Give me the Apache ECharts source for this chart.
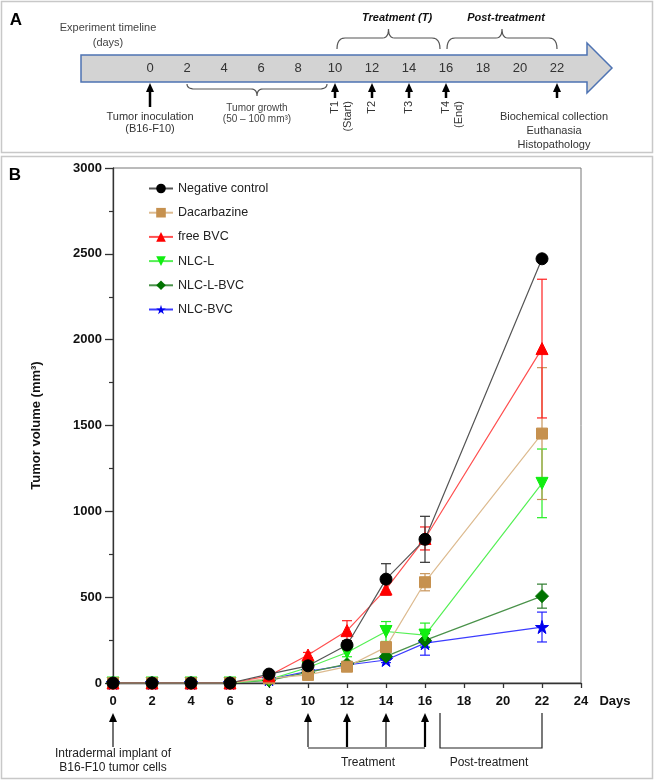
<!DOCTYPE html>
<html>
<head>
<meta charset="utf-8">
<script src="https://cdn.jsdelivr.net/npm/echarts@6/dist/echarts.min.js"></script>
<style>
  html, body { margin: 0; padding: 0; background: #fff; }
  #chart { width: 654px; height: 781px; }
</style>
</head>
<body>
<div id="chart"></div>
<script>
// measurement days and group means / SD (mm3)
const days = [0, 2, 4, 6, 8, 10, 12, 14, 16, 22]
const negControl = [0, 0, 0, 0, 52, 100, 221, 605, 837, 2471]
const negControlSd = [0, 0, 0, 0, 8, 12, 25, 90, 134, 0]
const dacarbazine = [0, 0, 0, 0, 27, 47, 95, 209, 587, 1453]
const dacarbazineSd = [0, 0, 0, 0, 5, 8, 12, 25, 50, 384]
const freeBvc = [0, 0, 0, 0, 42, 163, 305, 547, 842, 1948]
const freeBvcSd = [0, 0, 0, 0, 5, 15, 58, 35, 67, 404]
const nlcL = [0, 0, 0, 0, 20, 90, 178, 300, 279, 1163]
const nlcLSd = [0, 0, 0, 0, 8, 10, 25, 58, 70, 200]
const nlcLBvc = [0, 0, 0, 0, 15, 62, 110, 155, 248, 506]
const nlcLBvcSd = [0, 0, 0, 0, 4, 8, 15, 20, 40, 70]
const nlcBvc = [0, 0, 0, 0, 22, 68, 105, 134, 232, 326]
const nlcBvcSd = [0, 0, 0, 0, 4, 8, 10, 15, 70, 87]

const legendNames = ['Negative control', 'Dacarbazine', 'free BVC', 'NLC-L', 'NLC-L-BVC', 'NLC-BVC']
const timelineDays = [0, 2, 4, 6, 8, 10, 12, 14, 16, 18, 20, 22]
const treatLabels = ['T1', 'T2', 'T3', 'T4']
const treatDays = [10, 12, 14, 16]
const implantDays = [0, 10, 12, 14, 16]

const STAR = 'path://M50,0 L61,35 L98,35 L68,57 L79,91 L50,70 L21,91 L32,57 L2,35 L39,35 Z'
const FONT = '"Liberation Sans", Arial, sans-serif'

function lineSeries(name, vals, color, lineColor, symbol, size, extra) {
  return Object.assign({
    type: 'line',
    name: name,
    data: days.map((d, i) => [d, vals[i]]),
    symbol: symbol,
    symbolSize: size,
    showAllSymbol: true,
    itemStyle: { color: color, borderColor: color },
    lineStyle: { color: lineColor, width: 1.2 },
    emphasis: { disabled: true },
    z: 3
  }, extra || {})
}

// vertical error bar with caps
function errSeries(name, vals, sds, color) {
  return {
    type: 'custom',
    name: name + ' sd',
    data: days.map((d, i) => [d, vals[i], sds[i]]),
    encode: { x: 0, y: 1 },
    silent: true,
    z: 2,
    renderItem: function (params, api) {
      const e = api.value(2)
      if (!e) return null
      const x = api.value(0)
      const y = api.value(1)
      const top = api.coord([x, y + e])
      const bot = api.coord([x, y - e])
      const w = 5
      const st = { stroke: color, lineWidth: 1.2 }
      return {
        type: 'group',
        children: [
          { type: 'line', shape: { x1: top[0], y1: top[1], x2: bot[0], y2: bot[1] }, style: st },
          { type: 'line', shape: { x1: top[0] - w, y1: top[1], x2: top[0] + w, y2: top[1] }, style: st },
          { type: 'line', shape: { x1: bot[0] - w, y1: bot[1], x2: bot[0] + w, y2: bot[1] }, style: st }
        ]
      }
    }
  }
}

const chart = echarts.init(document.getElementById('chart'))

chart.setOption({
  animation: false,
  backgroundColor: '#fff',
  grid: { left: 113, top: 168, width: 468, height: 515, show: true, borderColor: '#777', borderWidth: 1 },
  legend: {
    data: legendNames,
    orient: 'vertical',
    left: 143,
    top: 177,
    itemWidth: 24,
    itemHeight: 12,
    itemGap: 11.2,
    textStyle: { fontFamily: FONT, fontSize: 12.5, color: '#222' }
  },
  xAxis: {
    type: 'value',
    min: 0,
    max: 24,
    interval: 2,
    splitLine: { show: false },
    axisLine: { lineStyle: { color: '#333', width: 1.3 } },
    axisTick: { length: 5, lineStyle: { color: '#333', width: 1.3 } },
    axisLabel: { fontFamily: FONT, fontWeight: 'bold', fontSize: 13, color: '#111', margin: 12 }
  },
  yAxis: {
    type: 'value',
    min: 0,
    max: 3000,
    interval: 500,
    name: 'Tumor volume (mm³)',
    nameLocation: 'middle',
    nameGap: 70,
    nameTextStyle: { fontFamily: FONT, fontWeight: 'bold', fontSize: 13, color: '#111' },
    splitLine: { show: false },
    axisLine: { show: true, lineStyle: { color: '#333', width: 1.3 } },
    axisTick: { length: 8, lineStyle: { color: '#333', width: 1.3 } },
    minorTick: { show: true, splitNumber: 2, length: 4, lineStyle: { color: '#333', width: 1.2 } },
    axisLabel: { fontFamily: FONT, fontWeight: 'bold', fontSize: 13, color: '#111', margin: 11, formatter: v => String(v) }
  },
  series: [
    errSeries('NLC-BVC', nlcBvc, nlcBvcSd, '#2222ff'),
    errSeries('NLC-L-BVC', nlcLBvc, nlcLBvcSd, '#2e7d2e'),
    errSeries('NLC-L', nlcL, nlcLSd, '#22ee22'),
    errSeries('Dacarbazine', dacarbazine, dacarbazineSd, '#c8955a'),
    errSeries('free BVC', freeBvc, freeBvcSd, '#ff2020'),
    errSeries('Negative control', negControl, negControlSd, '#333'),
    lineSeries('NLC-BVC', nlcBvc, '#0000ee', '#3c3cff', STAR, 13),
    lineSeries('NLC-L-BVC', nlcLBvc, '#007300', '#4a924a', 'diamond', 13),
    lineSeries('NLC-L', nlcL, '#11ee11', '#55f055', 'triangle', 12, { symbolRotate: 180 }),
    lineSeries('Dacarbazine', dacarbazine, '#c6914f', '#ddbb90', 'rect', 11),
    lineSeries('free BVC', freeBvc, '#ff0000', '#ff5050', 'triangle', 12),
    lineSeries('Negative control', negControl, '#000000', '#555555', 'circle', 12, { z: 4 })
  ]
})

// ---- annotation graphics ----
const px = d => chart.convertToPixel({ xAxisIndex: 0 }, d)
const xA = d => 150 + d * 18.5

function txt(text, x, y, size, opts) {
  return {
    type: 'text',
    x: x,
    y: y,
    rotation: (opts && opts.rotation) || 0,
    style: Object.assign({
      text: text,
      font: ((opts && opts.weight) || 'normal') + ' ' + size + 'px ' + FONT,
      fill: '#333',
      textAlign: 'center',
      textVerticalAlign: 'middle'
    }, (opts && opts.style) || {})
  }
}

function upArrow(x, tip, base, width) {
  return [
    { type: 'line', shape: { x1: x, y1: tip + 6, x2: x, y2: base }, style: { stroke: '#000', lineWidth: width } },
    { type: 'polygon', shape: { points: [[x, tip], [x - 4, tip + 9], [x + 4, tip + 9]] }, style: { fill: '#000' } }
  ]
}

// quadratic curve points
function quad(p0, p1, p2, n) {
  const pts = []
  for (let i = 1; i <= n; i++) {
    const t = i / n
    const a = (1 - t) * (1 - t), b = 2 * (1 - t) * t, c = t * t
    pts.push([a * p0[0] + b * p1[0] + c * p2[0], a * p0[1] + b * p1[1] + c * p2[1]])
  }
  return pts
}

// curly brace as a polyline (ends at yb, body at yt, middle point at yp)
function brace(x1, x2, yb, yt, yp) {
  const xm = (x1 + x2) / 2
  let pts = [[x1, yb]]
  pts = pts.concat(quad([x1, yb], [x1, yt], [x1 + 8, yt], 6))
  pts.push([xm - 6, yt])
  pts = pts.concat(quad([xm - 6, yt], [xm, yt], [xm, yp], 6))
  pts = pts.concat(quad([xm, yp], [xm, yt], [xm + 6, yt], 6))
  pts.push([x2 - 8, yt])
  pts = pts.concat(quad([x2 - 8, yt], [x2, yt], [x2, yb], 6))
  return { type: 'polyline', shape: { points: pts }, style: { fill: 'none', stroke: '#555', lineWidth: 1.2 } }
}

const g = []
// panel frames
g.push({ type: 'rect', shape: { x: 1.5, y: 1.5, width: 651, height: 151 }, style: { fill: 'none', stroke: '#c8c8c8', lineWidth: 1.5 }, z: -1 })
g.push({ type: 'rect', shape: { x: 1.5, y: 156.5, width: 651, height: 622 }, style: { fill: 'none', stroke: '#c8c8c8', lineWidth: 1.5 }, z: -1 })
g.push(txt('A', 16, 20, 17, { weight: 'bold', style: { fill: '#000' } }))
g.push(txt('B', 15, 175, 17, { weight: 'bold', style: { fill: '#000' } }))

// panel A: timeline arrow
g.push({
  type: 'polygon',
  shape: { points: [[81, 55], [587, 55], [587, 43], [612, 68], [587, 93], [587, 82], [81, 82]] },
  style: { fill: '#d3d3d3', stroke: '#4e73b3', lineWidth: 1.5 }
})
timelineDays.forEach(d => g.push(txt(String(d), xA(d), 68, 13, { style: { fill: '#333' } })))
g.push(txt('Experiment timeline', 108, 28, 11, { style: { fill: '#444' } }))
g.push(txt('(days)', 108, 43, 11, { style: { fill: '#444' } }))

// braces above the arrow
g.push(brace(xA(10) + 2, xA(16) - 6, 49, 38, 29))
g.push(brace(xA(16) + 1, xA(22), 49, 38, 29))
g.push(txt('Treatment (T)', 397, 18, 11, { weight: 'italic bold', style: { fill: '#111' } }))
g.push(txt('Post-treatment', 506, 18, 11, { weight: 'italic bold', style: { fill: '#111' } }))

// tumor growth brace below the arrow
g.push(brace(xA(2), xA(10) - 8, 84, 89, 96))
g.push(txt('Tumor growth', 257, 108, 10, { style: { fill: '#444' } }))
g.push(txt('(50 – 100 mm³)', 257, 119, 10, { style: { fill: '#444' } }))

// up arrows and labels under the timeline
upArrow(xA(0), 83, 107, 2.5).forEach(e => g.push(e))
treatDays.forEach(d => upArrow(xA(d), 83, 98, 2.5).forEach(e => g.push(e)))
upArrow(xA(22), 83, 98, 2.5).forEach(e => g.push(e))
g.push(txt('Tumor inoculation', xA(0), 117, 11, { style: { fill: '#333' } }))
g.push(txt('(B16-F10)', xA(0), 129, 11, { style: { fill: '#333' } }))
treatLabels.forEach((t, i) => g.push(txt(t, xA(treatDays[i]), 101, 11, { rotation: Math.PI / 2, style: { textAlign: 'right' } })))
g.push(txt('(Start)', xA(10) + 13, 101, 11, { rotation: Math.PI / 2, style: { textAlign: 'right' } }))
g.push(txt('(End)', xA(16) + 13, 101, 11, { rotation: Math.PI / 2, style: { textAlign: 'right' } }))
g.push(txt('Biochemical collection', 554, 117, 11))
g.push(txt('Euthanasia', 554, 131, 11))
g.push(txt('Histopathology', 554, 145, 11))

// panel B: below the x axis
g.push(txt('Days', 615, 701, 13, { weight: 'bold', style: { fill: '#111' } }))
implantDays.forEach(d => {
  const thick = d === 12 || d === 16
  upArrow(px(d), 713, 747, thick ? 2.2 : 1.1).forEach(e => g.push(e))
})
g.push({ type: 'line', shape: { x1: px(10), y1: 748, x2: px(16), y2: 748 }, style: { stroke: '#222', lineWidth: 1.2 } })
g.push({
  type: 'polyline',
  shape: { points: [[px(16) + 15, 713], [px(16) + 15, 748], [px(22), 748], [px(22), 713]] },
  style: { fill: 'none', stroke: '#222', lineWidth: 1.2 }
})
g.push(txt('Intradermal implant of', px(0), 754, 12, { style: { fill: '#222' } }))
g.push(txt('B16-F10 tumor cells', px(0), 768, 12, { style: { fill: '#222' } }))
g.push(txt('Treatment', 368, 763, 12, { style: { fill: '#222' } }))
g.push(txt('Post-treatment', 489, 763, 12, { style: { fill: '#222' } }))

chart.setOption({ graphic: g })
</script>
</body>
</html>
